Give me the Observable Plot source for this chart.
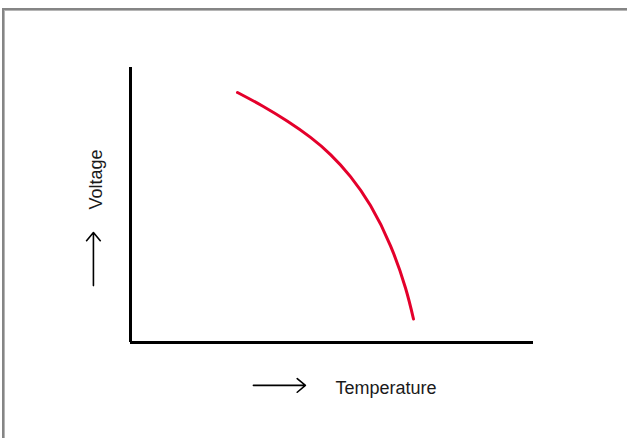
<!DOCTYPE html>
<html>
<head>
<meta charset="utf-8">
<script src="https://cdn.jsdelivr.net/npm/d3@7"></script>
<script src="https://cdn.jsdelivr.net/npm/@observablehq/plot@0.6"></script>
<style>
  html, body { margin: 0; padding: 0; background: #fff; width: 627px; height: 438px; overflow: hidden; }
  #frame { position: absolute; left: 2px; top: 8px; width: 660px; height: 470px; border: 2px solid #858585; box-shadow: inset 1px 1px 0 #b5b5b5; }
  #chart { position: absolute; left: 0; top: 0; }
</style>
</head>
<body>
<div id="frame"></div>
<div id="chart"></div>
<script>
// Curve (arbitrary units, 0–100 on each axis)
const temperature = [26.55, 32.75, 38.96, 44.67, 49.63, 54.59, 59.55, 64.52, 68.24, 70.22];
const voltage     = [90.91, 86.0, 80.44, 74.58, 68.33, 60.33, 49.78, 35.16, 19.82, 8.55];

// Axis titles and their arrows (annotation positions in data units)
const labelTexts = ["Voltage", "Temperature"];
const labelX = [-8.4, 63.4];
const labelY = [59.3, -16.7];
const labelRotate = [-90, 0];
const arrowX1 = [-9.2, 30.5];
const arrowX2 = [-9.2, 43.4];
const arrowY1 = [20.7, -15.6];
const arrowY2 = [40.0, -15.6];

const curve = temperature.map((t, i) => ({t, v: voltage[i]}));
const labels = labelTexts.map((text, i) => ({text, x: labelX[i], y: labelY[i], rotate: labelRotate[i]}));
const arrows = arrowX1.map((x1, i) => ({x1, x2: arrowX2[i], y1: arrowY1[i], y2: arrowY2[i]}));

const chart = Plot.plot({
  width: 627,
  height: 438,
  marginLeft: 130,
  marginRight: 94,
  marginTop: 67,
  marginBottom: 96,
  x: {domain: [0, 100], axis: null},
  y: {domain: [0, 100], axis: null},
  style: {fontFamily: "Liberation Sans, Arial, Helvetica, sans-serif", background: "transparent", overflow: "visible"},
  marks: [
    Plot.ruleX([0], {stroke: "#000", strokeWidth: 3}),
    Plot.ruleY([0], {stroke: "#000", strokeWidth: 3}),
    Plot.line(curve, {x: "t", y: "v", curve: "natural", stroke: "#e4002b", strokeWidth: 3}),
    Plot.arrow(arrows, {x1: "x1", y1: "y1", x2: "x2", y2: "y2", stroke: "#000", strokeWidth: 1.6, headLength: 10, headAngle: 80, bend: 0, clip: false}),
    Plot.text(labels.filter(d => d.rotate === 0), {x: "x", y: "y", text: "text", fontSize: 18, fill: "#1a1a1a"}),
    Plot.text(labels.filter(d => d.rotate !== 0), {x: "x", y: "y", text: "text", rotate: -90, fontSize: 18, fill: "#1a1a1a"})
  ]
});
document.getElementById("chart").appendChild(chart);
</script>
</body>
</html>
